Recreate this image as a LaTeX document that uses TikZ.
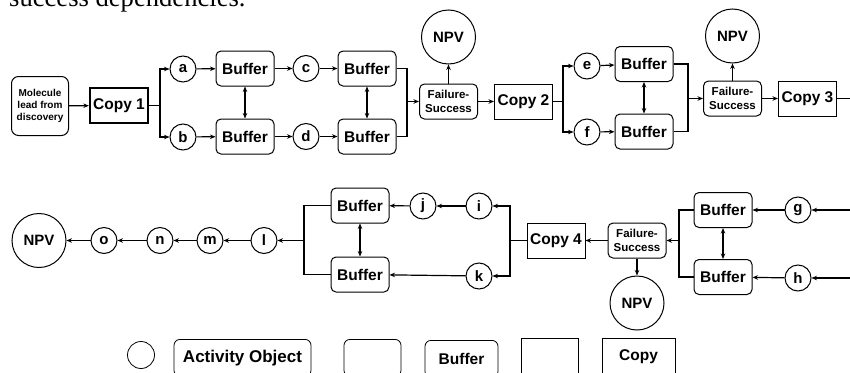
\documentclass[tikz,border=0pt]{standalone}
\usepackage{fontspec}
\setmainfont{Liberation Sans}
\newfontfamily\capserif{Liberation Serif}
\usetikzlibrary{arrows.meta}

\tikzset{
  every node/.style={font=\bfseries},
  conn/.style={line width=1.2pt, -{Stealth[length=5.5pt,width=4.5pt]}},
  plain/.style={line width=1.2pt},
  dbl/.style={line width=1.2pt, {Stealth[length=5.5pt,width=4.5pt]}-{Stealth[length=5.5pt,width=4.5pt]}},
  act/.style={circle, draw, line width=1pt, minimum size=26pt, inner sep=0pt,
    font=\bfseries\fontsize{15}{17}\selectfont},
  npv/.style={circle, draw, line width=1pt, minimum size=54pt, inner sep=0pt,
    font=\bfseries\fontsize{15}{17}\selectfont},
  buf/.style={draw, line width=1pt, rounded corners=5pt, minimum width=58pt,
    minimum height=35pt, inner sep=0pt, font=\bfseries\fontsize{15.5}{17}\selectfont},
  fsbox/.style={draw, line width=1pt, rounded corners=5pt, minimum width=58pt,
    minimum height=35pt, inner sep=0pt, align=center,
    font=\bfseries\fontsize{11.5}{13.5}\selectfont},
  cpy/.style={draw, line width=1pt, minimum width=58pt, minimum height=35pt,
    inner sep=0pt, font=\bfseries\fontsize{15.5}{17}\selectfont},
  srcbox/.style={draw, line width=1pt, rounded corners=7pt, minimum width=57pt,
    minimum height=59pt, inner sep=0pt, align=center,
    font=\bfseries\fontsize{10}{12}\selectfont},
  legend/.style={draw, line width=0.8pt, minimum height=37pt, anchor=north,
    inner sep=0pt},
}

\begin{document}
\begin{tikzpicture}[x=1pt, y=-1pt]
\useasboundingbox (0,0) rectangle (850,372);
\clip (0,0) rectangle (850,372);

% caption line above the figure
\node[anchor=base west, inner sep=0pt, font=\capserif\fontsize{26.6}{30}\selectfont] (cap) at (9,6) {success dependencies.};

% ---------- upper chain ----------
\node[srcbox] (mol) at (40,106) {Molecule\\lead from\\discovery};
\node[cpy, line width=2.3pt] (c1) at (119,105.5) {Copy 1};
\node[act] (a) at (183,69) {a};
\node[act] (b) at (183,137) {b};
\node[buf] (ba) at (245,68.5) {Buffer};
\node[buf] (bb) at (245,136.5) {Buffer};
\node[act] (c) at (306,68.5) {c};
\node[act] (d) at (306,136.5) {d};
\node[buf] (bc) at (367,68.5) {Buffer};
\node[buf] (bd) at (367,136.5) {Buffer};
\node[fsbox] (fs1) at (448.5,101.5) {Failure-\\Success};
\node[npv] (n1) at (448.5,37) {NPV};
\node[cpy] (c2) at (523.5,101.5) {Copy 2};
\node[act] (e) at (587,66) {e};
\node[act] (f) at (587,132) {f};
\node[buf] (be) at (644,64) {Buffer};
\node[buf] (bf) at (644,131.5) {Buffer};
\node[fsbox] (fs2) at (732.5,98.5) {Failure-\\Success};
\node[npv] (n2) at (732.5,36) {NPV};
\node[cpy] (c3) at (807.5,98.5) {Copy 3};

\coordinate (j1) at (160,105.5);
\coordinate (m1) at (407,101.5);
\coordinate (j2) at (563,101.5);
\coordinate (m2) at (688,98.5);
\coordinate (e3) at (852,98.5);

\draw[conn] (mol) -- (c1);
\draw[plain] (c1.east) -- (j1);
\draw[conn] (j1) |- (a);
\draw[conn] (j1) |- (b);
\draw[conn] (a) -- (ba);
\draw[conn] (b) -- (bb);
\draw[dbl] (ba) -- (bb);
\draw[conn] (ba) -- (c);
\draw[conn] (bb) -- (d);
\draw[conn] (c) -- (bc);
\draw[conn] (d) -- (bd);
\draw[dbl] (bc) -- (bd);
\draw[plain] (bc.east) -| (m1);
\draw[plain] (bd.east) -| (m1);
\draw[conn] (m1) -- (fs1);
\draw[conn] (fs1) -- (n1);
\draw[conn] (fs1) -- (c2);
\draw[plain] (c2.east) -- (j2);
\draw[conn] (j2) |- (e);
\draw[conn] (j2) |- (f);
\draw[conn] (e) -- (be);
\draw[conn] (f) -- (bf);
\draw[dbl] (be) -- (bf);
\draw[plain] (be.east) -| (m2);
\draw[plain] (bf.east) -| (m2);
\draw[conn] (m2) -- (fs2);
\draw[conn] (fs2) -- (n2);
\draw[conn] (fs2) -- (c3);
\draw[plain] (c3.east) -- (e3);

% ---------- lower chain (runs right to left) ----------
\node[act] (g) at (798,210) {g};
\node[act] (h) at (798,278) {h};
\node[buf] (bg) at (723,210) {Buffer};
\node[buf] (bh) at (723,277) {Buffer};
\node[fsbox] (fs3) at (637,240.5) {Failure-\\Success};
\node[npv] (n3) at (637,303) {NPV};
\node[cpy] (c4) at (556,240.5) {Copy 4};
\node[act] (i) at (479,206) {i};
\node[act] (k) at (479,276) {k};
\node[act] (j) at (423,206) {j};
\node[buf] (bj) at (360,205.5) {Buffer};
\node[buf] (bk) at (360,274.5) {Buffer};
\node[act] (l) at (264,240.5) {l};
\node[act] (m) at (210,240.5) {m};
\node[act] (n) at (160,240.5) {n};
\node[act] (o) at (104,240.5) {o};
\node[npv] (n4) at (39,240.5) {NPV};

\coordinate (eg) at (852,210);
\coordinate (eh) at (852,278);
\coordinate (m4) at (679,240.5);
\coordinate (j5) at (510,240.5);
\coordinate (m5) at (304,240.5);

\draw[conn] (eg) -- (g);
\draw[conn] (eh) -- (h);
\draw[conn] (g) -- (bg);
\draw[conn] (h) -- (bh);
\draw[dbl] (bg) -- (bh);
\draw[plain] (bg.west) -| (m4);
\draw[plain] (bh.west) -| (m4);
\draw[conn] (m4) -- (fs3);
\draw[conn] (fs3) -- (n3);
\draw[conn] (fs3) -- (c4);
\draw[plain] (c4.west) -- (j5);
\draw[conn] (j5) |- (i);
\draw[conn] (j5) |- (k);
\draw[conn] (i) -- (j);
\draw[conn] (j) -- (bj);
\draw[conn] (k) -- (bk);
\draw[dbl] (bj) -- (bk);
\draw[plain] (bj.west) -| (m5);
\draw[plain] (bk.west) -| (m5);
\draw[conn] (m5) -- (l);
\draw[conn] (l) -- (m);
\draw[conn] (m) -- (n);
\draw[conn] (n) -- (o);
\draw[conn] (o) -- (n4);

% ---------- legend ----------
\node[circle, draw, line width=0.8pt, minimum size=27pt, inner sep=0pt] (lc) at (141,355) {};
\node[legend, rounded corners=6pt, minimum width=137pt,
  font=\bfseries\fontsize{17}{19}\selectfont] (lact) at (242.5,339) {Activity Object};
\node[legend, rounded corners=6pt, minimum width=57pt] (lrb) at (372.5,339) {};
\node[legend, rounded corners=6pt, minimum width=73pt,
  font=\bfseries\fontsize{15.5}{17}\selectfont] (lbuf) at (461.5,340) {Buffer};
\node[legend, minimum width=57pt] (lsq) at (549.5,338) {};
\node[legend, minimum width=73pt,
  font=\bfseries\fontsize{15.5}{17}\selectfont] (lcpy) at (638.5,338) {Copy};
\end{tikzpicture}
\end{document}
